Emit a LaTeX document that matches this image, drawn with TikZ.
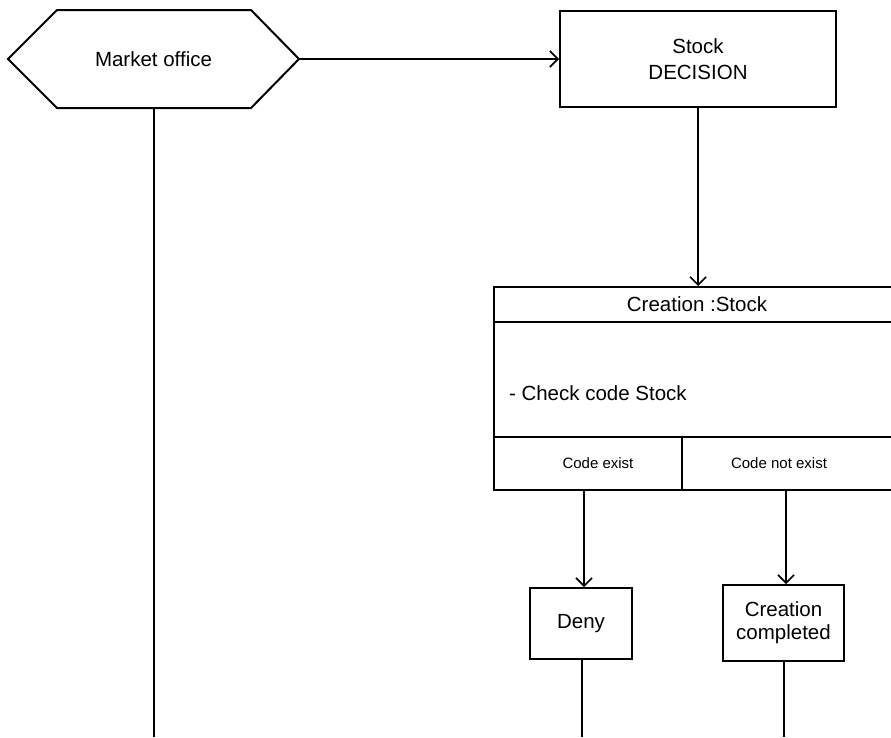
\documentclass[tikz,border=0pt]{standalone}
\usepackage{fontspec}
\setmainfont{Liberation Sans}
\usetikzlibrary{arrows.meta,calc}
\begin{document}
\begin{tikzpicture}[x=1pt,y=-1pt,
  line width=2pt,
  arr/.style={-{Straight Barb[length=8pt,width=16pt,line width=1.6pt]}},
  boxnode/.style={draw,inner sep=0pt,align=center,font=\fontsize{20.5}{24}\selectfont},
  txt/.style={inner sep=0pt,font=\fontsize{20.5}{24}\selectfont},
  small/.style={inner sep=0pt,font=\fontsize{15}{18}\selectfont}]
\useasboundingbox (0,0) rectangle (891,737);
\clip (0,0) rectangle (891,737);
% hexagon
\node[txt,minimum width=289pt,minimum height=96pt] (mo) at (153.5,59) {Market office};
\draw ($(mo.north west)+(49,0)$) -- ($(mo.north east)+(-48,0)$) -- (mo.east)
  -- ($(mo.south east)+(-48,0)$) -- ($(mo.south west)+(49,0)$) -- (mo.west) -- cycle;
% stock decision
\node[boxnode,minimum width=276pt,minimum height=96pt,font=\fontsize{20.5}{26}\selectfont] (sd) at (698,59) {Stock\\DECISION};
\draw[arr] (mo.east) -- (sd.west);
% big box
\node[draw,minimum width=408pt,minimum height=203pt,inner sep=0pt] (cs) at (698,388.5) {};
\coordinate (hl) at (494,322);
\coordinate (dl) at (494,437);
\coordinate (vd) at (682,437);
\draw (hl) -- (hl -| cs.east);
\draw (dl) -- (dl -| cs.east);
\draw (vd) -- (vd |- cs.south);
\node[txt] (cst) at (697,304) {Creation :Stock};
\node[txt,anchor=west] (chk) at (508,393) {- Check code Stock};
\node[small] (ce) at (598,463) {Code exist};
\node[small] (cne) at (779,463) {Code not exist};
\draw[arr] (sd.south) -- (cs.north);
% result boxes
\node[boxnode,minimum width=102pt,minimum height=71pt] (deny) at (581,623.5) {Deny};
\node[boxnode,minimum width=121pt,minimum height=76pt,font=\fontsize{20.5}{23}\selectfont] (cc) at (783.5,623) {Creation\\completed};
\coordinate (lo) at (584,490);
\coordinate (ro) at (786,490);
\draw[arr] (lo) -- (lo |- deny.north);
\draw[arr] (ro) -- (ro |- cc.north);
% bottom lines
\coordinate (mend) at (154,737);
\coordinate (dend) at (582,737);
\coordinate (cend) at (784,737);
\draw (mend |- mo.south) -- (mend);
\draw (dend |- deny.south) -- (dend);
\draw (cend |- cc.south) -- (cend);
\end{tikzpicture}
\end{document}
